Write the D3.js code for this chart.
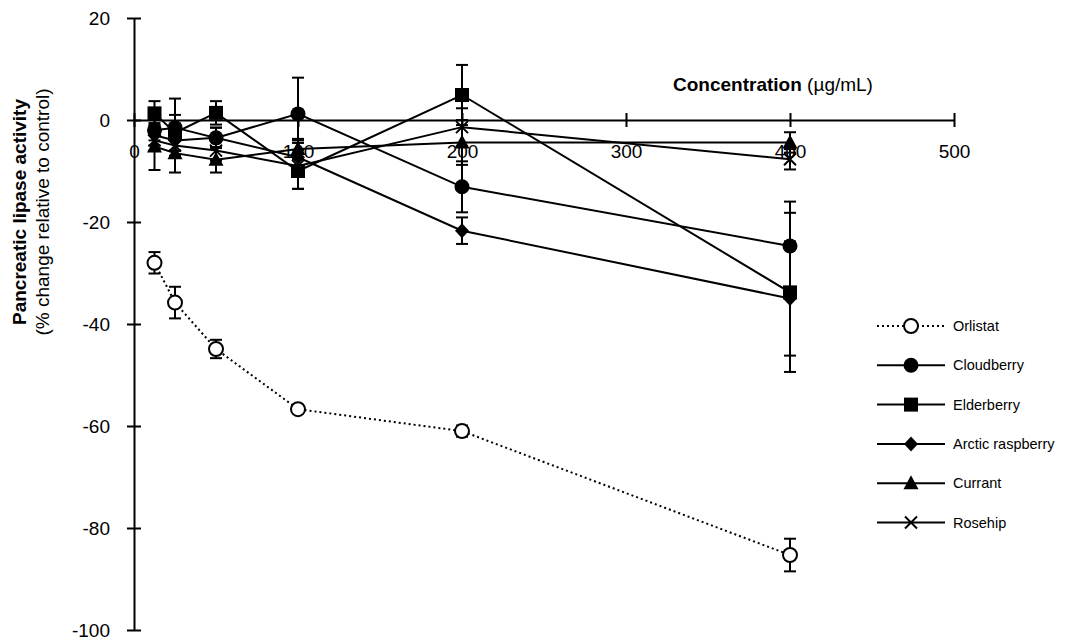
<!DOCTYPE html>
<html>
<head>
<meta charset="utf-8">
<script src="https://cdn.jsdelivr.net/npm/d3@7"></script>
<style>
  body { margin: 0; background: #fff; }
  svg { font-family: "Liberation Sans", Arial, sans-serif; }
</style>
</head>
<body>
<svg width="1076" height="644"></svg>
<script>
// concentrations (ug/mL)
var conc = [12.5, 25, 50, 100, 200, 400];

var orlistat = [-28, -35.8, -44.9, -56.7, -61, -85.3];
var orlistatErr = [2.1, 3.1, 1.8, 0.6, 1.1, 3.2];
var cloudberry = [-2, -1.5, -3.5, 1.2, -13.1, -24.7];
var cloudberryErr = [2, 5.7, 2, 7.1, 5, 8.7];
var elderberry = [1.3, -2.5, 1.4, -10, 4.9, -33.8];
var elderberryErr = [2.4, 3.5, 2.3, 3.5, 5.9, 15.6];
var arctic = [-3, -4, -3.5, -7.3, -21.7, -35];
var arcticErr = [2, 2, 2, 3.3, 2.6, 11.2];
var currant = [-5.2, -6.5, -7.8, -5.7, -4.4, -4.4];
var currantErr = [4.6, 3.8, 2.5, 2, 4.4, 2];
var rosehip = [-4, -5, -6, -9, -1.4, -7.7];
var rosehipErr = [2, 2, 2, 4.5, 3.7, 2];

var xTicks = [0, 100, 200, 300, 400, 500];
var yTicks = [20, 0, -20, -40, -60, -80, -100];

var series = [
  {name: "Orlistat", vals: orlistat, err: orlistatErr, sym: "open", dash: "2,3"},
  {name: "Cloudberry", vals: cloudberry, err: cloudberryErr, sym: "circle"},
  {name: "Elderberry", vals: elderberry, err: elderberryErr, sym: "square"},
  {name: "Arctic raspberry", vals: arctic, err: arcticErr, sym: "diamond"},
  {name: "Currant", vals: currant, err: currantErr, sym: "triangle"},
  {name: "Rosehip", vals: rosehip, err: rosehipErr, sym: "cross"}
];

var svg = d3.select("svg");
var x = d3.scaleLinear().domain([0, 500]).range([134, 954]);
var y = d3.scaleLinear().domain([-100, 20]).range([630, 18]);
var plain = function(d) { return String(d); };

// y axis
var yAxis = svg.append("g").attr("transform", "translate(" + x(0) + ",0)")
  .call(d3.axisLeft(y).tickValues(yTicks).tickFormat(plain).tickSize(7).tickSizeOuter(0).tickPadding(17));
yAxis.select(".domain").attr("stroke", "#000").attr("stroke-width", 2);
yAxis.selectAll(".tick line").attr("x1", -7).attr("x2", 7).attr("stroke-width", 2);
yAxis.selectAll(".tick text").attr("font-size", 19).attr("font-family", "Liberation Sans, Arial, sans-serif").attr("fill", "#000");

// x axis
var xAxis = svg.append("g").attr("transform", "translate(0," + y(0) + ")")
  .call(d3.axisBottom(x).tickValues(xTicks).tickFormat(plain).tickSize(7).tickSizeOuter(0));
xAxis.select(".domain").attr("stroke", "#000").attr("stroke-width", 2);
xAxis.selectAll(".tick line").attr("y1", -7).attr("y2", 7).attr("stroke-width", 2);
xAxis.selectAll(".tick text").attr("font-size", 19).attr("font-family", "Liberation Sans, Arial, sans-serif")
  .attr("fill", "#000").attr("y", 31).attr("dy", "0.35em");

// axis titles
var xt = svg.append("text").attr("x", 773).attr("y", 91).attr("text-anchor", "middle").attr("font-size", 19);
xt.append("tspan").attr("font-weight", "bold").text("Concentration");
xt.append("tspan").text(" (\u00b5g/mL)");

svg.append("text").attr("transform", "translate(26,212) rotate(-90)").attr("text-anchor", "middle")
  .attr("font-size", 19).attr("font-weight", "bold").text("Pancreatic lipase activity");
svg.append("text").attr("transform", "translate(49,212) rotate(-90)").attr("text-anchor", "middle")
  .attr("font-size", 19).text("(% change relative to control)");

function marker(g, sym) {
  if (sym === "open") {
    g.append("circle").attr("r", 7).attr("fill", "#fff").attr("stroke", "#000").attr("stroke-width", 2);
  } else if (sym === "circle") {
    g.append("circle").attr("r", 7.5).attr("fill", "#000");
  } else if (sym === "square") {
    g.append("rect").attr("x", -7).attr("y", -7).attr("width", 14).attr("height", 14).attr("fill", "#000");
  } else if (sym === "diamond") {
    g.append("path").attr("d", "M0,-7.5L7,0L0,7.5L-7,0Z").attr("fill", "#000");
  } else if (sym === "triangle") {
    g.append("path").attr("d", "M0,-8L7.5,6L-7.5,6Z").attr("fill", "#000");
  } else if (sym === "cross") {
    g.append("path").attr("d", "M-6,-6L6,6M-6,6L6,-6").attr("stroke", "#000").attr("stroke-width", 2);
  }
}

var line = d3.line().x(function(d) { return x(d.c); }).y(function(d) { return y(d.v); });

series.forEach(function(s) {
  var pts = conc.map(function(c, i) { return {c: c, v: s.vals[i], e: s.err[i]}; });
  var g = svg.append("g");
  g.append("path").datum(pts).attr("d", line).attr("fill", "none").attr("stroke", "#000")
    .attr("stroke-width", 2).attr("stroke-dasharray", s.dash || null);
  // error bars
  var eb = g.selectAll(".eb").data(pts).enter().append("g").attr("class", "eb");
  eb.append("line").attr("x1", function(d) { return x(d.c); }).attr("x2", function(d) { return x(d.c); })
    .attr("y1", function(d) { return y(d.v + d.e); }).attr("y2", function(d) { return y(d.v - d.e); })
    .attr("stroke", "#000").attr("stroke-width", 2);
  [1, -1].forEach(function(sg) {
    eb.append("line").attr("x1", function(d) { return x(d.c) - 6; }).attr("x2", function(d) { return x(d.c) + 6; })
      .attr("y1", function(d) { return y(d.v + sg * d.e); }).attr("y2", function(d) { return y(d.v + sg * d.e); })
      .attr("stroke", "#000").attr("stroke-width", 2);
  });
  g.selectAll(".pt").data(pts).enter().append("g").attr("class", "pt")
    .attr("transform", function(d) { return "translate(" + x(d.c) + "," + y(d.v) + ")"; })
    .each(function() { marker(d3.select(this), s.sym); });
});

// legend
var legend = svg.append("g").selectAll("g").data(series).enter().append("g")
  .attr("transform", function(d, i) { return "translate(0," + (326 + i * 39.3) + ")"; });
legend.append("line").attr("x1", 877).attr("x2", 945).attr("stroke", "#000").attr("stroke-width", 2)
  .attr("stroke-dasharray", function(d) { return d.dash || null; });
legend.append("g").attr("transform", "translate(911,0)").each(function(d) { marker(d3.select(this), d.sym); });
legend.append("text").attr("x", 953).attr("dy", "0.35em").attr("font-size", 14.5).text(function(d) { return d.name; });
</script>
</body>
</html>
